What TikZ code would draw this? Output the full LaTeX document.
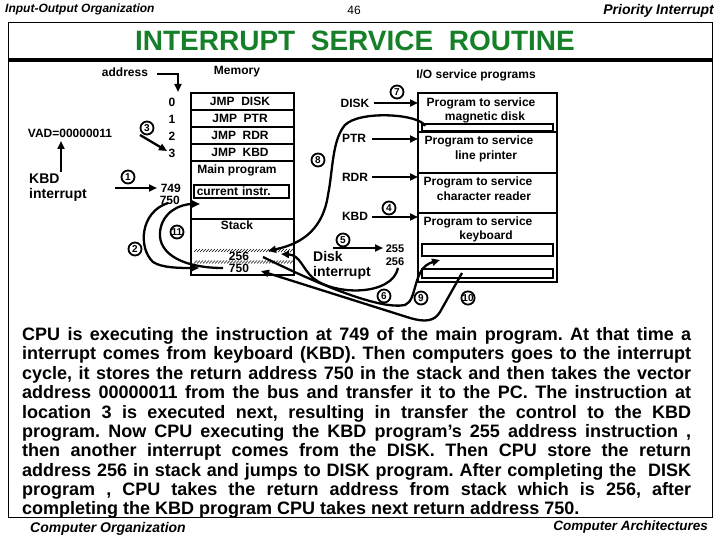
\documentclass[tikz,border=0pt]{standalone}
\usepackage{fontspec}
\setmainfont{Liberation Sans}
\usetikzlibrary{arrows.meta}
\definecolor{titlegreen}{RGB}{22,128,40}
\newcommand\fsz[1]{\fontsize{#1}{#1}\selectfont}
\frenchspacing
\begin{document}
\begin{tikzpicture}[x=1pt,y=-1pt,
  lbl/.style={font=\fsz{12}\bfseries, inner sep=0pt},
  num/.style={circle, draw, fill=white, line width=1.8pt, inner sep=0pt, minimum size=13pt, font=\fsz{10}\bfseries},
  conn/.style={line width=2.3pt, -{Triangle[length=8pt,width=7pt]}},
  thickbox/.style={draw, line width=2.3pt},
  para/.style={font=\fsz{18}\bfseries, inner sep=0pt, anchor=base west},
  foot/.style={font=\fsz{14}\bfseries\itshape, inner sep=0pt},
]
\useasboundingbox (0,0) rectangle (720,540);
% frame
\draw[line width=1pt] (8,23) rectangle (712,517);
\draw[line width=4pt] (8,60) -- (712,60);
% headers
\node[anchor=west, font=\fsz{12}\bfseries\itshape, inner sep=0pt] (hdl) at (5,9) {Input-Output Organization};
\node[font=\fsz{12}, inner sep=0pt] (hdn) at (354,10) {46};
\node[anchor=east, font=\fsz{14}\bfseries\itshape, inner sep=0pt] (hdr) at (714,11) {Priority Interrupt};
\node[font=\fsz{28}\bfseries, text=titlegreen, inner sep=0pt] (title) at (355,41) {INTERRUPT\ \ SERVICE\ \ ROUTINE};
% labels
\node[lbl] (addr) at (125,72) {address};
\node[lbl] (memlbl) at (237,72) {Memory};
\node[lbl] (iolbl) at (476,75) {I/O service programs};
% memory box
\draw[thickbox] (191,93) rectangle (294,275);
\foreach \yy in {110,127,144,161,219} \draw[line width=2.3pt] (191,\yy) -- (294,\yy);
\node[lbl] (m0) at (240,101.5) {JMP\ \ DISK};
\node[lbl] (m1) at (240,118.5) {JMP\ \ PTR};
\node[lbl] (m2) at (240,135.5) {JMP\ \ RDR};
\node[lbl] (m3) at (240,152.5) {JMP\ \ KBD};
\node[lbl] (mainp) at (237,170) {Main program};
\node[draw, line width=1.6pt, anchor=north west, minimum width=95pt, minimum height=13pt, text width=89pt, inner xsep=3pt, inner ysep=0pt, font=\fsz{12}\bfseries, align=left] (cur) at (193,184) {current instr.};
\node[lbl] (stack) at (237,225) {Stack};
\foreach \x in {194,197,...,290} {\draw[line width=0.5pt] (\x,252) -- (\x+3,249);}
\foreach \x in {194,197,...,290} {\draw[line width=0.5pt] (\x,263.5) -- (\x+3,260.5);}
\node[lbl] (s256) at (239,256) {256};
\node[lbl] (s750) at (239,268) {750};
% addresses
\node[lbl] (a0) at (172,102) {0};
\node[lbl] (a1) at (172,119.5) {1};
\node[lbl] (a2) at (172,136.5) {2};
\node[lbl] (a3) at (172,153) {3};
\node[lbl, anchor=east] (a749) at (181,188) {749};
\node[lbl, anchor=east] (a750) at (180,200) {750};
% left labels
\node[lbl] (vad) at (70,133) {VAD=00000011};
\node[font=\fsz{14}\bfseries, inner sep=0pt, anchor=north west, align=left] (kbdint) at (29,174) {KBD\\[1pt]interrupt};
% IO labels
\node[lbl] (lDISK) at (355,103) {DISK};
\node[lbl] (lPTR) at (354,138) {PTR};
\node[lbl] (lRDR) at (355,177) {RDR};
\node[lbl] (lKBD) at (355,216.5) {KBD};
\node[font=\fsz{11}\bfseries, inner sep=0pt] (n255) at (395,249) {255};
\node[font=\fsz{11}\bfseries, inner sep=0pt] (n256) at (395,262) {256};
\node[font=\fsz{14}\bfseries, inner sep=0pt, anchor=north west, align=left] (diskint) at (313,251) {Disk\\[1pt]interrupt};
% IO box
\draw[thickbox] (418,93) rectangle (557,282);
\foreach \yy in {132,173,213} \draw[line width=2.3pt] (418,\yy) -- (557,\yy);
\draw[line width=1.5pt] (422,124) rectangle (553,130.5);
\draw[line width=1.5pt] (422,244) rectangle (553,256);
\draw[line width=1.5pt] (422,269) rectangle (553,278);
\node[lbl] (p1a) at (481,103) {Program to service};
\node[lbl] (p1b) at (485,117) {magnetic disk};
\node[lbl] (p2a) at (479,141) {Program to service};
\node[lbl] (p2b) at (486,156) {line printer};
\node[lbl] (p3a) at (478,182) {Program to service};
\node[lbl] (p3b) at (484,196) {character reader};
\node[lbl] (p4a) at (478,222) {Program to service};
\node[lbl] (p4b) at (486,236) {keyboard};
% coordinates for connector ends
\coordinate (adrA) at (157,74);
\coordinate (adrB) at (178,92);
\coordinate (kbdtop) at (61,172);
\coordinate (vadbot) at (61,141);
\coordinate (one0) at (115,188);
\coordinate (one1) at (157,188);
\coordinate (thr0) at (140,135);
\coordinate (thr1) at (167,151);
\coordinate (io1) at (418,103);
\coordinate (io2) at (418,139);
\coordinate (io3) at (418,177);
\coordinate (io4) at (418,217);
\coordinate (five0) at (333,248);
\coordinate (five1) at (383,248);
\coordinate (two0) at (168,203);
\coordinate (two1) at (199,268);
\coordinate (elv0) at (223,268);
\coordinate (elv1) at (200,204);
\coordinate (six0) at (398,268);
\coordinate (six1) at (281,254);
\coordinate (eig0) at (425,126);
\coordinate (eig1) at (268,251);
\coordinate (nin0) at (263,257);
\coordinate (nin1) at (440,260);
\coordinate (ten0) at (462,273);
\coordinate (ten1) at (261,271);
% connectors
\draw[conn] (adrA) -| (adrB);
\draw[conn] (kbdtop) -- (vadbot);
\draw[conn] (one0) -- (one1);
\draw[conn] (thr0) -- (thr1);
\draw[conn] (lDISK.east) ++(4,0) -- (io1);
\draw[conn] (lPTR.east) ++(6,1) -- (io2);
\draw[conn] (lRDR.east) ++(4,0) -- (io3);
\draw[conn] (lKBD.east) ++(4,0.5) -- (io4);
\draw[conn] (five0) -- (five1);
\draw[conn] (two0) .. controls (140,212) and (138,248) .. (153,262) .. controls (162,268) and (180,268) .. (two1);
\draw[conn] (elv0) .. controls (185,268) and (158,255) .. (160,232) .. controls (162,212) and (180,204) .. (elv1);
\draw[conn] (six0) .. controls (392,296) and (335,296) .. (313,278) .. controls (302,268) and (300,255) .. (six1);
\draw[conn] (eig0) .. controls (420,114) and (360,110) .. (345,125) .. controls (332,140) and (333,170) .. (328,195) .. controls (322,235) and (295,245) .. (eig1);
\draw[conn] (nin0) .. controls (320,285) and (380,310) .. (405,305) .. controls (418,300) and (412,268) .. (nin1);
\draw[conn] (ten0) -- (440,312) .. controls (434,322) and (424,322) .. (410,318) -- (ten1);
% circles
\node[num] (c1) at (128,177) {1};
\node[num] (c2) at (135,249) {2};
\node[num] (c3) at (147,128) {3};
\node[num] (c4) at (389,208) {4};
\node[num] (c5) at (343,240) {5};
\node[num] (c6) at (384,296) {6};
\node[num] (c7) at (397,92) {7};
\node[num] (c8) at (318,160) {8};
\node[num] (c9) at (421,298) {9};
\node[num] (c10) at (468,298) {10};
\node[num] (c11) at (177,232) {11};
% paragraph
\node[para] (t1) at (22,340.5) {\makebox[669pt][s]{CPU is executing the instruction at 749 of the main program. At that time a}};
\node[para] (t2) at (22,359.9) {\makebox[669pt][s]{interrupt comes from keyboard (KBD). Then computers goes to the interrupt}};
\node[para] (t3) at (22,379.3) {\makebox[669pt][s]{cycle, it stores the return address 750 in the stack and then takes the vector}};
\node[para] (t4) at (22,398.7) {\makebox[669pt][s]{address 00000011 from the bus and transfer it to the PC. The instruction at}};
\node[para] (t5) at (22,418.1) {\makebox[669pt][s]{location 3 is executed next, resulting in transfer the control to the KBD}};
\node[para] (t6) at (22,437.5) {\makebox[669pt][s]{program. Now CPU executing the KBD program’s 255 address instruction ,}};
\node[para] (t7) at (22,456.9) {\makebox[669pt][s]{then another interrupt comes from the DISK. Then CPU store the return}};
\node[para] (t8) at (22,476.3) {\makebox[669pt][s]{address 256 in stack and jumps to DISK program. After completing the\ \ DISK}};
\node[para] (t9) at (22,495.7) {\makebox[669pt][s]{program , CPU takes the return address from stack which is 256, after}};
\node[para] (t10) at (22,514) {completing the KBD program CPU takes next return address 750.};
% footers
\node[foot, anchor=west] (fl) at (30,529) {Computer Organization};
\node[foot, anchor=east, font=\fsz{13.5}\bfseries\itshape] (fr) at (708,527) {Computer Architectures};
\end{tikzpicture}
\end{document}
